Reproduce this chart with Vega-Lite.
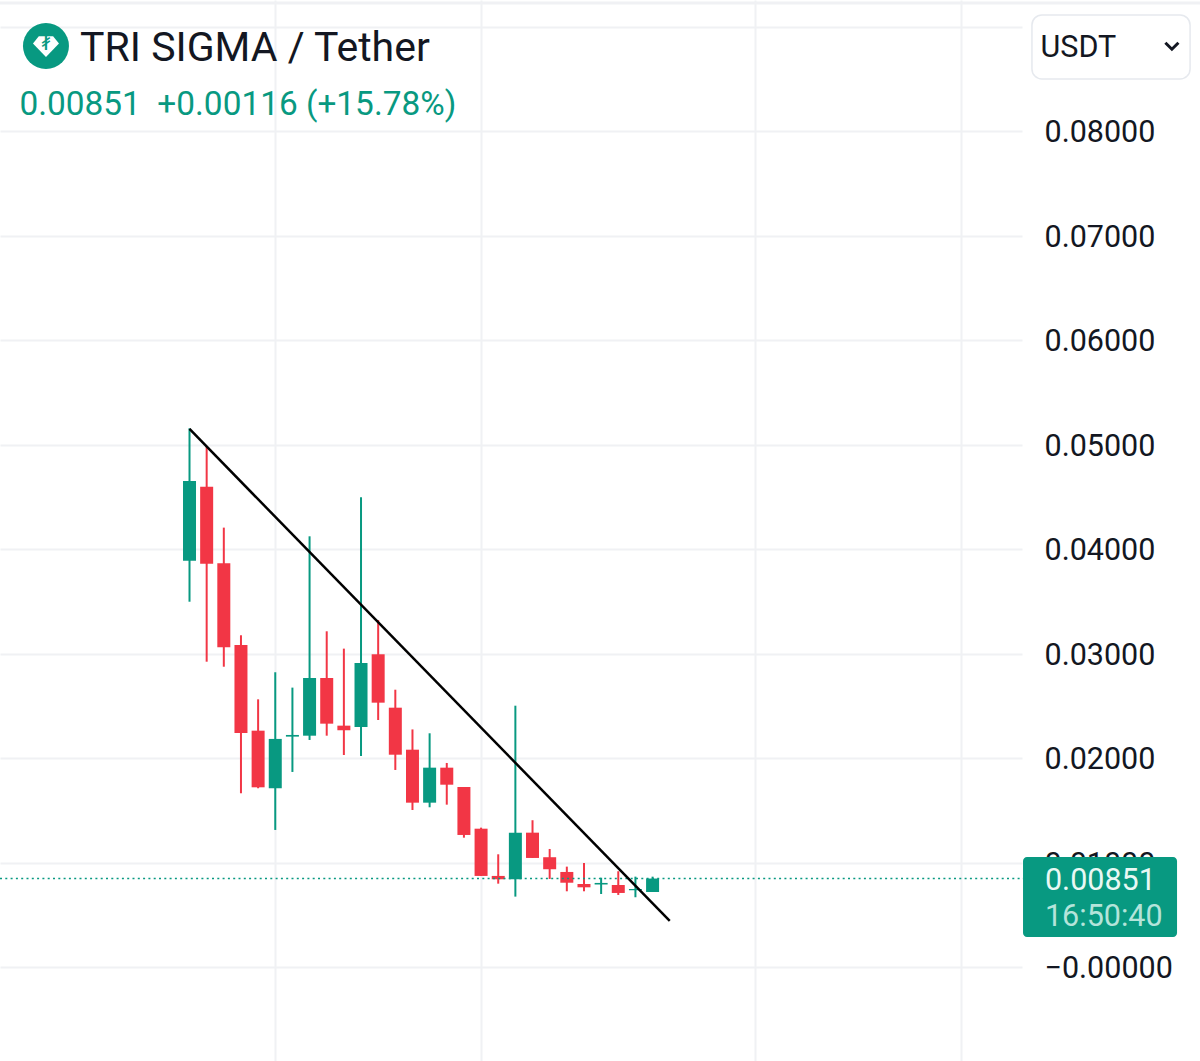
{
"$schema":"https://vega.github.io/schema/vega-lite/v6.json",
"width":1022,"height":1061,
"autosize":{"type":"none"},
"padding":{"left":0,"top":0,"right":178,"bottom":0},
"background":"#ffffff",
"view":{"stroke":null},
"config":{"font":"Roboto"},
"datasets":{
"candles":[
{"i":0,"open":0.03893,"close":0.04656,"high":0.05160,"low":0.03500,"dir":"up"},
{"i":1,"open":0.04601,"close":0.03864,"high":0.04990,"low":0.02926,"dir":"down"},
{"i":2,"open":0.03868,"close":0.03064,"high":0.04209,"low":0.02878,"dir":"down"},
{"i":3,"open":0.03086,"close":0.02244,"high":0.03179,"low":0.01667,"dir":"down"},
{"i":4,"open":0.02266,"close":0.01724,"high":0.02566,"low":0.01715,"dir":"down"},
{"i":5,"open":0.01715,"close":0.02187,"high":0.02825,"low":0.01316,"dir":"up"},
{"i":6,"open":0.02209,"close":0.02225,"high":0.02678,"low":0.01871,"dir":"up"},
{"i":7,"open":0.02218,"close":0.02770,"high":0.04126,"low":0.02177,"dir":"up"},
{"i":8,"open":0.02770,"close":0.02333,"high":0.03217,"low":0.02218,"dir":"down"},
{"i":9,"open":0.02314,"close":0.02270,"high":0.03051,"low":0.02033,"dir":"down"},
{"i":10,"open":0.02301,"close":0.02914,"high":0.04500,"low":0.02024,"dir":"up"},
{"i":11,"open":0.02997,"close":0.02534,"high":0.03325,"low":0.02368,"dir":"down"},
{"i":12,"open":0.02486,"close":0.02036,"high":0.02658,"low":0.01890,"dir":"down"},
{"i":13,"open":0.02084,"close":0.01577,"high":0.02278,"low":0.01507,"dir":"down"},
{"i":14,"open":0.01577,"close":0.01912,"high":0.02241,"low":0.01533,"dir":"up"},
{"i":15,"open":0.01912,"close":0.01749,"high":0.01957,"low":0.01558,"dir":"down"},
{"i":16,"open":0.01727,"close":0.01268,"high":0.01727,"low":0.01242,"dir":"down"},
{"i":17,"open":0.01328,"close":0.00876,"high":0.01338,"low":0.00876,"dir":"down"},
{"i":18,"open":0.00876,"close":0.00844,"high":0.01083,"low":0.00802,"dir":"down"},
{"i":19,"open":0.00844,"close":0.01290,"high":0.02505,"low":0.00678,"dir":"up"},
{"i":20,"open":0.01290,"close":0.01048,"high":0.01409,"low":0.01048,"dir":"down"},
{"i":21,"open":0.01055,"close":0.00940,"high":0.01134,"low":0.00847,"dir":"down"},
{"i":22,"open":0.00914,"close":0.00811,"high":0.00965,"low":0.00729,"dir":"down"},
{"i":23,"open":0.00799,"close":0.00767,"high":0.01000,"low":0.00729,"dir":"down"},
{"i":24,"open":0.00794,"close":0.00809,"high":0.00859,"low":0.00703,"dir":"up"},
{"i":25,"open":0.00789,"close":0.00713,"high":0.00921,"low":0.00694,"dir":"down"},
{"i":26,"open":0.00739,"close":0.00751,"high":0.00869,"low":0.00672,"dir":"up"},
{"i":27,"open":0.00722,"close":0.00851,"high":0.00869,"low":0.00722,"dir":"up"}
],
"trend":[{"i":0,"v":0.05153},{"i":28,"v":0.00445}],
"last":[{"i":-11.05,"i2":48.6,"v":0.00851}],
"topband":[{"i":-11.05,"i2":58.92,"v":0.0923}],
"tag":[{"i":48.6,"i2":57.58,"v":0.01057,"v2":0.00292}],
"box":[{"i":49.12,"i2":58.34,"v":0.09115,"v2":0.08502}],
"logo":[{"i":-8.37,"v":0.08818}],
"chev":[{"i":57.28,"v":0.08818}]
},
"layer":[
{"data":{"name":"candles"},"mark":{"type":"rule","strokeWidth":2},
 "encoding":{
  "x":{"field":"i","type":"quantitative","scale":{"domain":[-11.05,48.54],"nice":false,"zero":false,"padding":0},
   "axis":{"values":[5,17,33,45],"labels":false,"ticks":false,"domain":false,"title":null,"grid":true,"gridColor":"#f0f1f4","gridWidth":2}},
  "y":{"field":"low","type":"quantitative","scale":{"domain":[-0.00895,0.09258],"nice":false,"zero":false},
   "axis":{"orient":"right","values":[0,0.01,0.02,0.03,0.04,0.05,0.06,0.07,0.08,0.09],"labelExpr":"datum.value==0 ? '−0.00000' : (datum.value>0.085 ? '' : format(datum.value,'.5f'))","labelFontSize":30.5,"labelFont":"Roboto","labelColor":"#131722","labelPadding":22,"labelOffset":1.5,"labelAlign":"left","labelOverlap":false,"labelBound":false,"labelFlush":false,"ticks":false,"domain":false,"title":null,"grid":true,"gridColor":"#f0f1f4","gridWidth":2}},
  "y2":{"field":"high"},
  "color":{"field":"dir","type":"nominal","scale":{"domain":["up","down"],"range":["#089981","#f23645"]},"legend":null}
 }},
{"data":{"name":"candles"},"mark":{"type":"bar","size":13},
 "encoding":{
  "x":{"field":"i","type":"quantitative"},
  "y":{"field":"open","type":"quantitative"},
  "y2":{"field":"close"},
  "color":{"field":"dir","type":"nominal","legend":null}
 }},
{"data":{"name":"last"},"mark":{"type":"rule","color":"#089981","strokeWidth":1.5,"strokeDash":[2,3.3]},
 "encoding":{"x":{"field":"i","type":"quantitative"},"x2":{"field":"i2"},"y":{"field":"v","type":"quantitative"}}},
{"data":{"name":"trend"},"mark":{"type":"line","color":"#000000","strokeWidth":2.5},
 "encoding":{"x":{"field":"i","type":"quantitative"},"y":{"field":"v","type":"quantitative"}}},
{"data":{"name":"topband"},"mark":{"type":"rule","color":"#f0f1f4","strokeWidth":3},
 "encoding":{"x":{"field":"i","type":"quantitative"},"x2":{"field":"i2"},"y":{"field":"v","type":"quantitative"}}},
{"data":{"name":"tag"},"mark":{"type":"rect","fill":"#089981","cornerRadius":4},
 "encoding":{"x":{"field":"i","type":"quantitative"},"x2":{"field":"i2"},"y":{"field":"v","type":"quantitative"},"y2":{"field":"v2"}}},
{"data":{"values":[{"label":"0.00851","i":49.88,"v":0.00828}]},"mark":{"type":"text","align":"left","baseline":"middle","fontSize":30.5,"font":"Roboto","color":"#e8f8f4"},
 "encoding":{"x":{"field":"i","type":"quantitative"},"y":{"field":"v","type":"quantitative"},"text":{"field":"label"}}},
{"data":{"values":[{"label":"16:50:40","i":49.88,"v":0.00483}]},"mark":{"type":"text","align":"left","baseline":"middle","fontSize":30.5,"font":"Roboto","color":"#b4e4da"},
 "encoding":{"x":{"field":"i","type":"quantitative"},"y":{"field":"v","type":"quantitative"},"text":{"field":"label"}}},
{"data":{"name":"box"},"mark":{"type":"rect","fill":"#ffffff","stroke":"#e6e9ee","strokeWidth":1.5,"cornerRadius":10},
 "encoding":{"x":{"field":"i","type":"quantitative"},"x2":{"field":"i2"},"y":{"field":"v","type":"quantitative"},"y2":{"field":"v2"}}},
{"data":{"values":[{"label":"USDT","i":49.62,"v":0.08799}]},"mark":{"type":"text","align":"left","baseline":"middle","fontSize":30.5,"font":"Roboto","color":"#131722"},
 "encoding":{"x":{"field":"i","type":"quantitative"},"y":{"field":"v","type":"quantitative"},"text":{"field":"label"}}},
{"data":{"name":"chev"},"mark":{"type":"point","shape":"M -1 -0.5 L 0 0.5 L 1 -0.5","filled":false,"stroke":"#131722","strokeWidth":3,"size":170,"opacity":1},
 "encoding":{"x":{"field":"i","type":"quantitative"},"y":{"field":"v","type":"quantitative"}}},
{"data":{"name":"logo"},"mark":{"type":"point","shape":"circle","filled":true,"fill":"#089981","size":2116,"opacity":1},
 "encoding":{"x":{"field":"i","type":"quantitative"},"y":{"field":"v","type":"quantitative"}}},
{"data":{"name":"logo"},"mark":{"type":"point","shape":"M -0.55 -0.75 L 0.55 -0.75 L 1 -0.2 L 0 0.85 L -1 -0.2 Z","filled":true,"fill":"#ffffff","size":676,"opacity":1},
 "encoding":{"x":{"field":"i","type":"quantitative"},"y":{"field":"v","type":"quantitative"}}},
{"data":{"values":[{"label":"₮","i":-8.37,"v":0.08838}]},"mark":{"type":"text","align":"center","baseline":"middle","fontSize":21,"font":"DejaVu Sans","color":"#089981"},
 "encoding":{"x":{"field":"i","type":"quantitative"},"y":{"field":"v","type":"quantitative"},"text":{"field":"label"}}},
{"data":{"values":[{"label":"TRI SIGMA / Tether","i":-6.38,"v":0.08789}]},"mark":{"type":"text","align":"left","baseline":"middle","fontSize":41,"font":"Roboto","color":"#131722"},
 "encoding":{"x":{"field":"i","type":"quantitative"},"y":{"field":"v","type":"quantitative"},"text":{"field":"label"}}},
{"data":{"values":[{"label":"0.00851\u00a0 +0.00116 (+15.78%)","i":-9.92,"v":0.08254}]},"mark":{"type":"text","align":"left","baseline":"middle","fontSize":33.4,"font":"Roboto","color":"#089981"},
 "encoding":{"x":{"field":"i","type":"quantitative"},"y":{"field":"v","type":"quantitative"},"text":{"field":"label"}}}
]
}
